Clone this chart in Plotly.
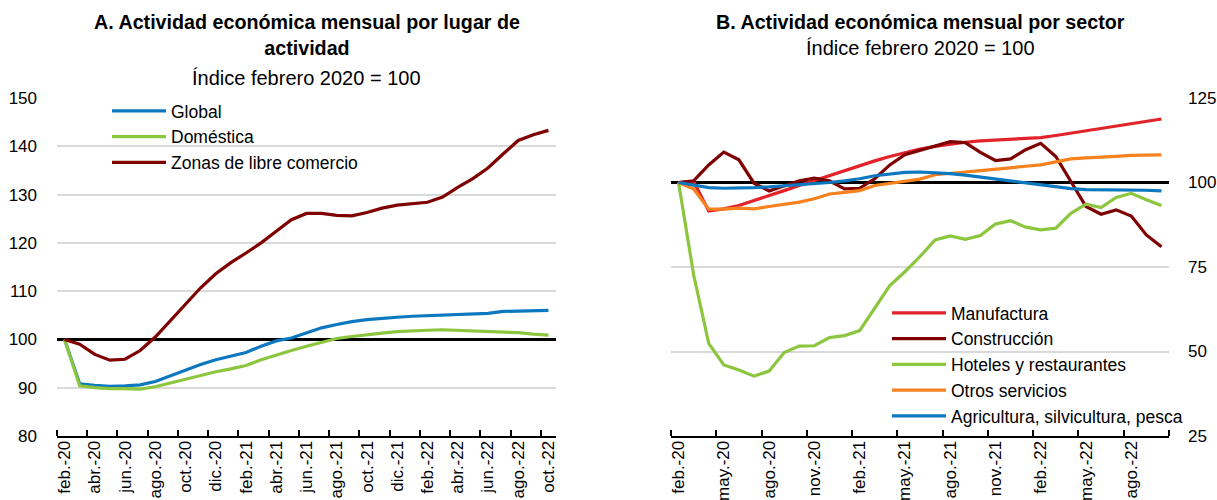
import plotly.graph_objects as go

# ---------------- data ----------------
categories = [
    "feb.-20", "mar.-20", "abr.-20", "may.-20", "jun.-20", "jul.-20", "ago.-20", "sep.-20",
    "oct.-20", "nov.-20", "dic.-20", "ene.-21", "feb.-21", "mar.-21", "abr.-21", "may.-21",
    "jun.-21", "jul.-21", "ago.-21", "sep.-21", "oct.-21", "nov.-21", "dic.-21", "ene.-22",
    "feb.-22", "mar.-22", "abr.-22", "may.-22", "jun.-22", "jul.-22", "ago.-22", "sep.-22",
    "oct.-22",
]

# Panel A
global_idx = [100, 90.8, 90.5, 90.3, 90.4, 90.6, 91.3, 92.5, 93.6, 94.8, 95.8, 96.5, 97.3,
              98.6, 99.7, 100.3, 101.4, 102.4, 103.1, 103.7, 104.1, 104.4, 104.6, 104.8,
              104.9, 105.0, 105.1, 105.2, 105.4, 105.8, 105.9, 105.9, 106.0]
domestica = [100, 90.4, 90.0, 89.8, 89.8, 89.7, 90.2, 91.0, 91.8, 92.6, 93.3, 93.9, 94.6,
             95.8, 96.8, 97.7, 98.6, 99.4, 100.2, 100.6, 101.0, 101.3, 101.6, 101.8, 101.9,
             102.0, 101.9, 101.7, 101.6, 101.5, 101.4, 101.1, 100.9]
zonas = [100, 99.0, 96.9, 95.7, 95.9, 97.7, 100.5, 103.9, 107.4, 110.7, 113.6, 115.9, 117.9,
         120.0, 122.4, 124.8, 126.1, 126.1, 125.7, 125.6, 126.3, 127.2, 127.8, 128.1, 128.4,
         129.5, 131.5, 133.3, 135.5, 138.4, 141.2, 142.4, 143.3]

# Panel B
manufactura = [100, 100.3, 91.6, 92.2, 93.2, 94.6, 96.2, 97.6, 99.1, 100.6, 102.0, 103.5,
               105.0, 106.4, 107.7, 108.9, 109.9, 110.7, 111.4, 111.9, 112.3, 112.5, 112.7,
               113.0, 113.3, 113.9, 114.6, 115.3, 116.1, 116.8, 117.6, 118.2, 118.8]
construccion = [100, 100.5, 105.2, 109.0, 106.7, 99.8, 97.5, 99.0, 100.5, 101.3, 100.5, 98.1,
                98.3, 101.1, 105.2, 108.2, 109.5, 110.7, 112.1, 111.8, 108.9, 106.5, 107.0,
                109.7, 111.6, 107.7, 100.3, 92.9, 90.6, 91.9, 90.1, 84.5, 81.0]
hoteles = [100, 72.7, 52.4, 46.0, 44.5, 42.7, 44.2, 49.7, 51.6, 51.7, 54.1, 54.7, 56.2, 62.8,
           69.5, 73.6, 78.1, 83.0, 84.2, 83.2, 84.3, 87.7, 88.7, 86.8, 86.0, 86.5, 90.9, 93.6,
           92.6, 95.6, 96.8, 94.9, 93.2]
otros = [100, 98.1, 92.1, 92.1, 92.4, 92.2, 92.9, 93.6, 94.2, 95.2, 96.6, 97.1, 97.6, 99.1,
         99.8, 100.3, 101.0, 102.3, 102.8, 103.1, 103.5, 104.0, 104.5, 104.8, 105.2, 106.2,
         107.0, 107.3, 107.4, 107.7, 108.0, 108.1, 108.2]
agricultura = [100, 99.3, 98.5, 98.3, 98.3, 98.5, 98.7, 99.0, 99.3, 99.7, 100.0, 100.5, 101.1,
               102.0, 102.6, 103.0, 103.1, 102.9, 102.6, 102.2, 101.6, 101.0, 100.5, 99.9,
               99.3, 98.7, 98.2, 97.9, 97.9, 97.8, 97.8, 97.7, 97.5]

title_a = "A. Actividad económica mensual por lugar de<br>actividad"
title_b = "B. Actividad económica mensual por sector"
subtitle = "Índice febrero 2020 = 100"

# ---------------- styling ----------------
W, H = 1217, 500
FONT = "Liberation Sans, Arial, sans-serif"
BLUE = "#0C78BF"
GREEN = "#8CC63F"
DARKRED = "#7F0000"
RED = "#E2232A"
ORANGE = "#F7821E"
GRID = "#D9D9D9"

x = list(range(len(categories)))


def px_x(p):
    """page pixel -> paper x"""
    return p / W


def px_y(p):
    """page pixel -> paper y"""
    return 1 - p / H


fig = go.Figure()


def add_line(name, y, color, xa, ya, legend):
    fig.add_trace(go.Scatter(
        x=x, y=y, name=name, mode="lines",
        line=dict(color=color, width=3.2),
        xaxis=xa, yaxis=ya, legend=legend, hoverinfo="skip",
    ))


add_line("Global", global_idx, BLUE, "x", "y", "legend")
add_line("Doméstica", domestica, GREEN, "x", "y", "legend")
add_line("Zonas de libre comercio", zonas, DARKRED, "x", "y", "legend")

add_line("Manufactura", manufactura, RED, "x2", "y2", "legend2")
add_line("Construcción", construccion, DARKRED, "x2", "y2", "legend2")
add_line("Hoteles y restaurantes", hoteles, GREEN, "x2", "y2", "legend2")
add_line("Otros servicios", otros, ORANGE, "x2", "y2", "legend2")
add_line("Agricultura, silvicultura, pesca", agricultura, BLUE, "x2", "y2", "legend2")

n = len(categories)
lab_a = list(range(0, n, 2))
lab_b = list(range(0, n, 3))

common_x = dict(
    range=[-0.5, n - 0.5], showgrid=False, zeroline=False,
    showline=True, linecolor="black", linewidth=2,
    ticks="", tickangle=-90, ticklabelstandoff=-4,
    tickfont=dict(size=17, color="black", family=FONT),
    automargin=False, fixedrange=True,
)

ydom = [px_y(436), px_y(98)]

fig.update_layout(
    width=W, height=H,
    margin=dict(l=0, r=0, t=0, b=0),
    paper_bgcolor="white", plot_bgcolor="white",
    font=dict(family=FONT, color="black", size=17),
    xaxis=dict(
        common_x, domain=[px_x(57), px_x(556)], anchor="y",
        tickmode="array", tickvals=lab_a, ticktext=[categories[i] for i in lab_a],
        minor=dict(tickmode="array", tickvals=[i - 0.5 for i in lab_a],
                   ticks="inside", ticklen=6, tickwidth=2, tickcolor="black", showgrid=False),
    ),
    yaxis=dict(
        domain=ydom, anchor="x", range=[80, 150], dtick=10, tick0=80,
        showgrid=True, gridcolor=GRID, gridwidth=1.5, zeroline=False, showline=False,
        ticks="", ticklabelstandoff=19, tickfont=dict(size=17, color="black", family=FONT),
        automargin=False, fixedrange=True,
    ),
    xaxis2=dict(
        common_x, domain=[px_x(671), px_x(1169)], anchor="y2",
        tickmode="array", tickvals=lab_b, ticktext=[categories[i] for i in lab_b],
        minor=dict(tickmode="array", tickvals=[i - 0.5 for i in lab_b] + [n - 0.5],
                   ticks="inside", ticklen=6, tickwidth=2, tickcolor="black", showgrid=False),
    ),
    yaxis2=dict(
        domain=ydom, anchor="x2", side="right", range=[25, 125], dtick=25, tick0=25,
        showgrid=True, gridcolor=GRID, gridwidth=1.5, zeroline=False, showline=False,
        ticks="", ticklabelstandoff=18, tickfont=dict(size=17, color="black", family=FONT),
        automargin=False, fixedrange=True,
    ),
    legend=dict(
        x=px_x(107), y=px_y(93), xanchor="left", yanchor="top",
        bgcolor="rgba(0,0,0,0)", borderwidth=0, font=dict(size=17.5, family=FONT),
        tracegroupgap=0, itemwidth=54,
    ),
    legend2=dict(
        x=px_x(887), y=px_y(295), xanchor="left", yanchor="top",
        bgcolor="rgba(0,0,0,0)", borderwidth=0, font=dict(size=17.5, family=FONT),
        tracegroupgap=0, itemwidth=54,
    ),
    showlegend=True,
)

# reference line at 100
fig.add_shape(type="line", xref="x", yref="y", x0=-0.5, x1=n - 0.5, y0=100, y1=100,
              line=dict(color="black", width=3), layer="between")
fig.add_shape(type="line", xref="x2", yref="y2", x0=-0.5, x1=n - 0.5, y0=100, y1=100,
              line=dict(color="black", width=3), layer="between")

# titles
cx_a = (57 + 556) / 2
cx_b = (671 + 1169) / 2
fig.add_annotation(text="<b>" + title_a + "</b>", x=px_x(cx_a), y=px_y(9), xref="paper", yref="paper",
                   xanchor="center", yanchor="top", showarrow=False,
                   font=dict(size=19.7, family=FONT, color="black"))
fig.add_annotation(text=subtitle, x=px_x(cx_a), y=px_y(65), xref="paper", yref="paper",
                   xanchor="center", yanchor="top", showarrow=False,
                   font=dict(size=20, family=FONT, color="black"))
fig.add_annotation(text="<b>" + title_b + "</b>", x=px_x(cx_b), y=px_y(9), xref="paper", yref="paper",
                   xanchor="center", yanchor="top", showarrow=False,
                   font=dict(size=19.7, family=FONT, color="black"))
fig.add_annotation(text=subtitle, x=px_x(cx_b), y=px_y(35), xref="paper", yref="paper",
                   xanchor="center", yanchor="top", showarrow=False,
                   font=dict(size=20, family=FONT, color="black"))

# the page's default 8px body margin would push the 1217x500 figure off-screen
fig.write_html("out.html", config={"displayModeBar": False},
               post_script="document.body.style.margin='0';")
